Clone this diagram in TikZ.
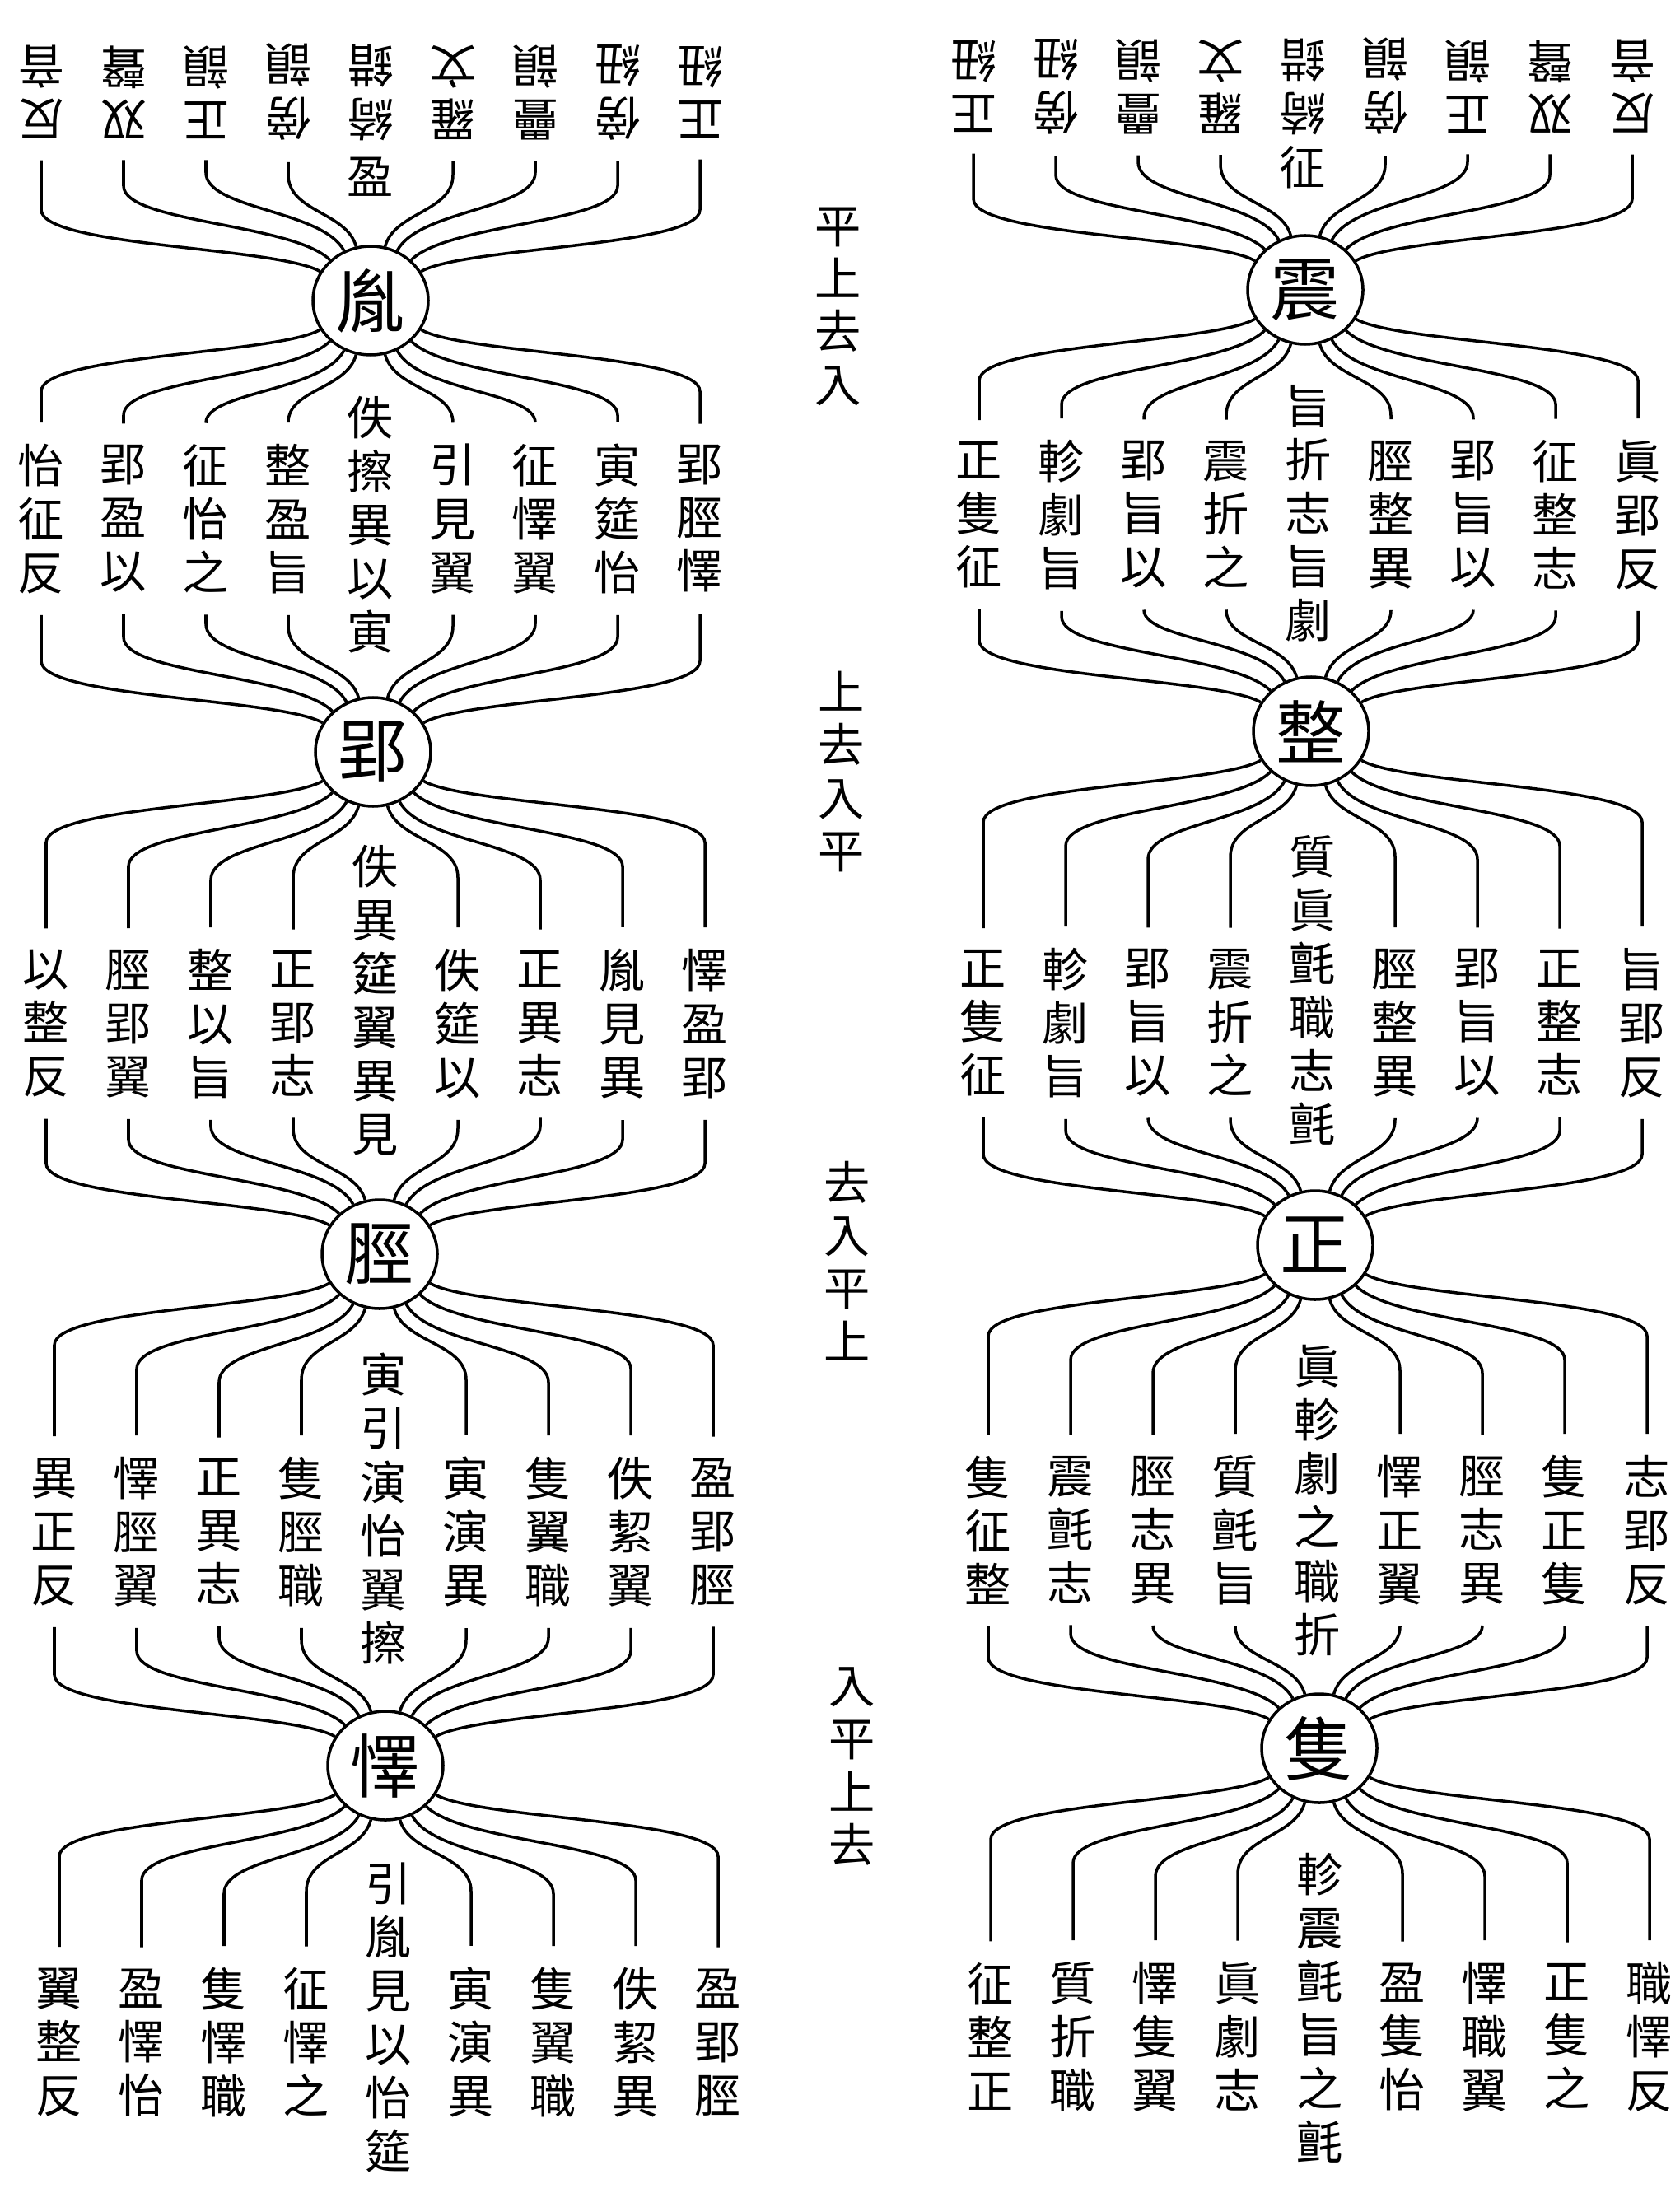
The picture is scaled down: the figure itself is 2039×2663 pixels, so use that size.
\documentclass[tikz,border=0pt]{standalone}
\usepackage{fontspec}
\newfontfamily\cjk{Noto Sans CJK TC}
\usetikzlibrary{calc,shapes.geometric}
% line leaving a hub downwards, ending vertically at a target above it
\newcommand\FanDn[4]{%
  \draw[fan] let \p1=(#1.#2), \p2=(#3), \p3=($(#1.#2)+(0,#4)$), \p4=($(#1.#2)+(0,#4+45)$) in
    (\p1) .. controls ({\x1+(\y1-\y3)*cos(#2)/abs(sin(#2))},\y3) and (\x2,\y3) .. (\x2,{max(\y4,\y2)}) -- (\p2);}
% line coming down from a source, entering a hub from above
\newcommand\FanUp[4]{%
  \draw[fan] let \p1=(#2.#3), \p2=(#1), \p3=($(#2.#3)+(0,-#4)$), \p4=($(#2.#3)+(0,-#4-45)$) in
    (\p2) -- (\x2,{min(\y4,\y2)}) .. controls (\x2,\y3) and ({\x1+(\y3-\y1)*cos(#3)/abs(sin(#3))},\y3) .. (\p1);}
\def\fanlist{1/-150/150/30,2/-135/135/45,3/-118/118/50,4/-105/105/42,6/-75/75/42,7/-62/62/50,8/-45/45/45,9/-30/30/30}
\begin{document}
\begin{tikzpicture}[x=0.1mm,y=-0.1mm,
  txt/.style={font=\cjk\fontsize{16}{18.5}\selectfont,align=center,inner sep=0pt,outer sep=0pt,outer ysep=2.6mm},
  inv/.style={txt,rotate=180},
  hub/.style={ellipse,draw,line width=1pt,minimum width=14mm,minimum height=13.2mm,inner sep=0pt,font=\cjk\fontsize{24}{24}\selectfont},
  lab/.style={font=\cjk\fontsize{16}{18.3}\selectfont,align=center,inner sep=0pt},
  fan/.style={line width=1pt}]
\fill[white] (0,0) rectangle (2039,2663);
\useasboundingbox (0,0) rectangle (2039,2663);

% ---------- hubs ----------
\node[hub] (lh1) at (450,365) {胤};
\node[hub] (lh2) at (453,913) {郢};
\node[hub] (lh3) at (461,1523) {脛};
\node[hub] (lh4) at (468,2144) {懌};
\node[hub] (rh1) at (1585,352) {震};
\node[hub] (rh2) at (1592,888) {整};
\node[hub] (rh3) at (1597,1512) {正};
\node[hub] (rh4) at (1602,2123) {隻};

% ---------- middle labels ----------
\node[lab] (m1) at (1018,372) {平\\上\\去\\入};
\node[lab] (m2) at (1022,937) {上\\去\\入\\平};
\node[lab] (m3) at (1029,1531) {去\\入\\平\\上};
\node[lab] (m4) at (1035,2145) {入\\平\\上\\去};

% ---------- left column texts ----------
\foreach \c/\t in {1/{反\\音},2/{双\\聲},3/{正\\韻},4/{傍\\韻},5/{綺\\錯},6/{羅\\文},7/{疊\\韻},8/{傍\\紐},9/{正\\紐}}
  \node[inv] (LT\c) at ({450+(\c-5)*100},112) {\t};
\node[txt] (LTx) at (450,215) {盈};

\foreach \c/\t in {1/{怡\\征\\反},2/{郢\\盈\\以},3/{征\\怡\\之},4/{整\\盈\\旨},6/{引\\見\\翼},7/{征\\懌\\翼},8/{寅\\筵\\怡},9/{郢\\脛\\懌}}
  \node[txt] (La\c) at ({450+(\c-5)*100},630) {\t};
\node[txt] (La5) at (450,637) {佚\\擦\\異\\以\\寅};

\foreach \c/\t in {1/{以\\整\\反},2/{脛\\郢\\翼},3/{整\\以\\旨},4/{正\\郢\\志},6/{佚\\筵\\以},7/{正\\異\\志},8/{胤\\見\\異},9/{懌\\盈\\郢}}
  \node[txt] (Lb\c) at ({456+(\c-5)*100},1243) {\t};
\node[txt] (Lb5) at (456,1215) {佚\\異\\筵\\翼\\異\\見};

\foreach \c/\t in {1/{異\\正\\反},2/{懌\\脛\\翼},3/{正\\異\\志},4/{隻\\脛\\職},6/{寅\\演\\異},7/{隻\\翼\\職},8/{佚\\絜\\翼},9/{盈\\郢\\脛}}
  \node[txt] (Lc\c) at ({466+(\c-5)*100},1860) {\t};
\node[txt] (Lc5) at (466,1832) {寅\\引\\演\\怡\\翼\\擦};

\foreach \c/\t in {1/{翼\\整\\反},2/{盈\\懌\\怡},3/{隻\\懌\\職},4/{征\\懌\\之},6/{寅\\演\\異},7/{隻\\翼\\職},8/{佚\\絜\\異},9/{盈\\郢\\脛}}
  \node[txt] (LB\c) at ({472+(\c-5)*100},2480) {\t};
\node[txt] (LB5) at (472,2450) {引\\胤\\見\\以\\怡\\筵};

% ---------- right column texts ----------
\foreach \c/\t in {1/{正\\紐},2/{傍\\紐},3/{疊\\韻},4/{羅\\文},5/{綺\\錯},6/{傍\\韻},7/{正\\韻},8/{双\\聲},9/{反\\音}}
  \node[inv] (RT\c) at ({1582+(\c-5)*100},105) {\t};
\node[txt] (RTx) at (1582,203) {征};

\foreach \c/\t in {1/{正\\隻\\征},2/{軫\\劇\\旨},3/{郢\\旨\\以},4/{震\\折\\之},6/{脛\\整\\異},7/{郢\\旨\\以},8/{征\\整\\志},9/{眞\\郢\\反}}
  \node[txt] (Ra\c) at ({1589+(\c-5)*100},625) {\t};
\node[txt] (Ra5) at (1589,623) {旨\\折\\志\\旨\\劇};

\foreach \c/\t in {1/{正\\隻\\征},2/{軫\\劇\\旨},3/{郢\\旨\\以},4/{震\\折\\之},6/{脛\\整\\異},7/{郢\\旨\\以},8/{正\\整\\志},9/{旨\\郢\\反}}
  \node[txt] (Rb\c) at ({1594+(\c-5)*100},1242) {\t};
\node[txt] (Rb5) at (1594,1202) {質\\眞\\氈\\職\\志\\氈};

\foreach \c/\t in {1/{隻\\征\\整},2/{震\\氈\\志},3/{脛\\志\\異},4/{質\\氈\\旨},6/{懌\\正\\翼},7/{脛\\志\\異},8/{隻\\正\\隻},9/{志\\郢\\反}}
  \node[txt] (Rc\c) at ({1600+(\c-5)*100},1858) {\t};
\node[txt] (Rc5) at (1600,1822) {眞\\軫\\劇\\之\\職\\折};

\foreach \c/\t in {1/{征\\整\\正},2/{質\\折\\職},3/{懌\\隻\\翼},4/{眞\\劇\\志},6/{盈\\隻\\怡},7/{懌\\職\\翼},8/{正\\隻\\之},9/{職\\懌\\反}}
  \node[txt] (RB\c) at ({1603+(\c-5)*100},2473) {\t};
\node[txt] (RB5) at (1603,2438) {軫\\震\\氈\\旨\\之\\氈};

% ---------- connectors ----------
\foreach \c/\ad/\au/\h in \fanlist {
  \FanUp{LT\c.north}{lh1}{\au}{\h}
  \FanDn{lh1}{\ad}{La\c.north}{\h}
  \FanUp{La\c.south}{lh2}{\au}{\h}
  \FanDn{lh2}{\ad}{Lb\c.north}{\h}
  \FanUp{Lb\c.south}{lh3}{\au}{\h}
  \FanDn{lh3}{\ad}{Lc\c.north}{\h}
  \FanUp{Lc\c.south}{lh4}{\au}{\h}
  \FanDn{lh4}{\ad}{LB\c.north}{\h}
  \FanUp{RT\c.north}{rh1}{\au}{\h}
  \FanDn{rh1}{\ad}{Ra\c.north}{\h}
  \FanUp{Ra\c.south}{rh2}{\au}{\h}
  \FanDn{rh2}{\ad}{Rb\c.north}{\h}
  \FanUp{Rb\c.south}{rh3}{\au}{\h}
  \FanDn{rh3}{\ad}{Rc\c.north}{\h}
  \FanUp{Rc\c.south}{rh4}{\au}{\h}
  \FanDn{rh4}{\ad}{RB\c.north}{\h}
}
\end{tikzpicture}
\end{document}
